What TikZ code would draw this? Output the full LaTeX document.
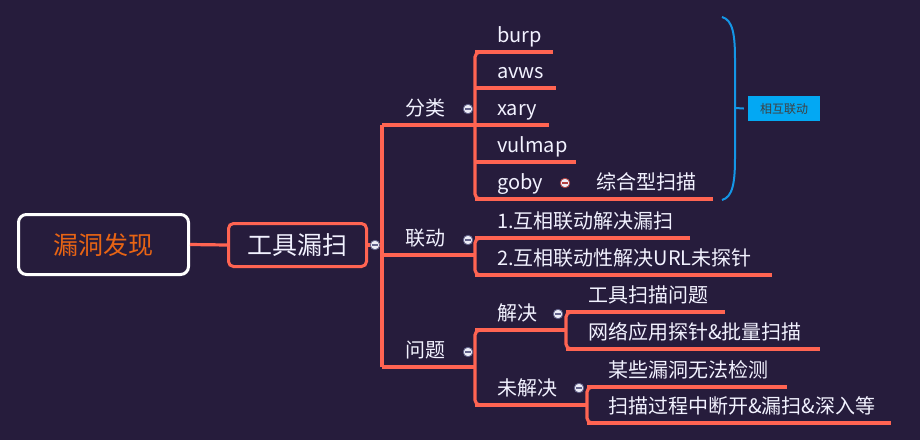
\documentclass[tikz,border=0pt]{standalone}
\usepackage{fontspec}
\setmainfont{Noto Sans CJK SC}
\definecolor{bgcol}{RGB}{38,28,60}
\definecolor{coral}{RGB}{255,100,82}
\definecolor{rootorange}{RGB}{232,100,20}
\definecolor{txtcol}{RGB}{242,242,255}
\definecolor{bracecol}{RGB}{20,150,230}
\definecolor{notecol}{RGB}{3,168,243}
\definecolor{foldfill}{RGB}{236,236,246}
\definecolor{foldline}{RGB}{100,100,140}
\definecolor{foldred}{RGB}{180,64,64}

\begin{document}
\begin{tikzpicture}[x=1pt, y=-1pt,
    root/.style={draw=white, line width=3pt, rounded corners=8pt, minimum width=170pt, minimum height=60pt, text=rootorange, font=\fontsize{25}{30}\selectfont},
    topic/.style={draw=coral, line width=3pt, rounded corners=5pt, minimum width=138pt, minimum height=43pt, text=txtcol, font=\fontsize{25}{30}\selectfont},
    leaf/.style n args={2}{anchor=south west, inner xsep=0pt, inner ysep=4pt, text width=#1, align=left, text height=15pt, text depth=5pt, text=txtcol, font=\fontsize{20}{24}\selectfont, execute at begin node={\hspace*{#2}}},
    branch/.style={coral, line width=3.2pt},
    fold/.style={circle, draw=#1, line width=.8pt, fill=foldfill, minimum size=9.5pt, inner sep=0pt, path picture={\draw[#1, line width=1.4pt] ([xshift=2pt]path picture bounding box.west) -- ([xshift=-2pt]path picture bounding box.east);}},
    fold/.default=foldline,
    note/.style={fill=notecol, minimum width=72pt, minimum height=25pt, inner sep=0pt, text=black!75, font=\fontsize{12}{14}\selectfont},
    brace/.style={bracecol, line width=2pt}
  ]
    \fill[bgcol] (0,0) rectangle (920,440);

    % centre and first level
    \node[root] (root) at (103.5,244.5) {漏洞发现};
    \node[topic] (tool) at (297.5,245) {工具漏扫};

    \node[leaf={93pt}{23pt}] (fenlei) at (382,125) {分类};
    \node[leaf={93pt}{23pt}] (liandong) at (382,255) {联动};
    \node[leaf={93pt}{23pt}] (wenti) at (382,367) {问题};

    % tools
    \node[leaf={78pt}{22pt}] (burp) at (475,52) {burp};
    \node[leaf={81pt}{22pt}] (avws) at (475,88) {avws};
    \node[leaf={74pt}{22pt}] (xary) at (475,125) {xary};
    \node[leaf={101pt}{22pt}] (vulmap) at (475,162) {vulmap};
    \node[leaf={90pt}{22pt}] (goby) at (475,199) {goby};
    \node[leaf={148pt}{31pt}] (zonghe) at (565,199) {综合型扫描};

    % linkage
    \node[leaf={215pt}{22pt}] (ld1) at (475,238) {1.互相联动解决漏扫};
    \node[leaf={297pt}{22pt}] (ld2) at (475,275) {2.互相联动性解决URL未探针};

    % problems
    \node[leaf={92pt}{22pt}] (jiejue) at (475,330) {解决};
    \node[leaf={112pt}{22pt}] (weijiejue) at (475,405) {未解决};
    \node[leaf={159pt}{22pt}] (jj1) at (566,312) {工具扫描问题};
    \node[leaf={254pt}{22pt}] (jj2) at (566,349) {网络应用探针\&批量扫描};
    \node[leaf={200pt}{21pt}] (wj1) at (587,387) {某些漏洞无法检测};
    \node[leaf={304pt}{21pt}] (wj2) at (587,423) {扫描过程中断开\&漏扫\&深入等};

    % summary
    \node[note] (link) at (784,108.5) {相互联动};
    \coordinate (br-top) at (722,17);
    \coordinate (br-bot) at (722,200);
    \coordinate (br-mid) at (735,108);

    \draw[branch] (root.east) -- (tool.west);
    \foreach \n in {fenlei,liandong,wenti,burp,avws,xary,vulmap,goby,zonghe,ld1,ld2,jiejue,weijiejue,jj1,jj2,wj1,wj2}
      \draw[branch] (\n.south west) -- (\n.south east);
    \draw[branch] (tool.east) -- (tool.east -| fenlei.south west);
    \draw[branch] (fenlei.south west) -- (wenti.south west);
    \draw[branch, rounded corners=5pt] ([xshift=10pt]burp.south west) -- (burp.south west) -- (goby.south west) -- ([xshift=10pt]goby.south west);
    \draw[branch, rounded corners=5pt] ([xshift=10pt]ld1.south west) -- (ld1.south west) -- (ld2.south west) -- ([xshift=10pt]ld2.south west);
    \draw[branch, rounded corners=5pt] ([xshift=10pt]jiejue.south west) -- (jiejue.south west) -- (weijiejue.south west) -- ([xshift=10pt]weijiejue.south west);
    \draw[branch, rounded corners=5pt] ([xshift=10pt]jj1.south west) -- (jj1.south west) -- (jj2.south west) -- ([xshift=10pt]jj2.south west);
    \draw[branch, rounded corners=5pt] ([xshift=10pt]wj1.south west) -- (wj1.south west) -- (wj2.south west) -- ([xshift=10pt]wj2.south west);

    \draw[brace] (br-top) .. controls (733,20) and (735,35) .. (735,60) -- (735,157) .. controls (735,182) and (733,197) .. (br-bot);
    \draw[brace] (br-mid) -- ([xshift=-4pt]link.west);

    % fold markers
    \node[fold] (f-tool) at (375,245) {};
    \node[fold] (f-fenlei) at (468,109) {};
    \node[fold] (f-liandong) at (468,240) {};
    \node[fold] (f-wenti) at (468,352) {};
    \node[fold=foldred] (f-goby) at (565,183) {};
    \node[fold] (f-jiejue) at (558,314) {};
    \node[fold] (f-weijiejue) at (579,388) {};
  \end{tikzpicture}
\end{document}
